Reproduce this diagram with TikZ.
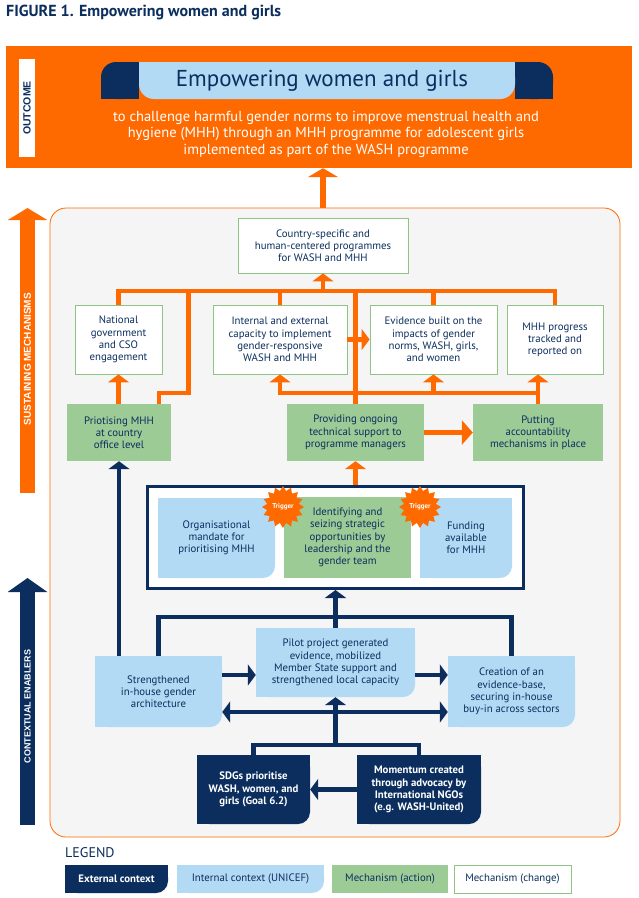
\documentclass[tikz,border=0pt]{standalone}
\usepackage{fontspec}
\setmainfont{PT Sans}
\newfontfamily\barfont{Liberation Sans}
\usetikzlibrary{arrows.meta,shapes.geometric,calc,positioning}

\definecolor{unorange}{RGB}{255,106,0}
\definecolor{unnavy}{RGB}{11,46,94}
\definecolor{unlblue}{RGB}{179,218,245}
\definecolor{ungreen}{RGB}{156,203,150}
\definecolor{unedge}{RGB}{143,196,132}
\definecolor{ungrey}{RGB}{245,245,245}

\begin{document}
\begin{tikzpicture}[x=1pt, y=-1pt, font=\fontsize{10.8}{12.2}\selectfont,
    change/.style={rectangle, draw=unedge, line width=0.8pt, fill=white, text=unnavy, align=center, inner sep=2pt},
    action/.style={rectangle, fill=ungreen, text=unnavy, align=center, inner sep=2pt},
    tabbox/.style={rectangle, align=center, inner sep=2pt, path picture={
        \fill[#1, rounded corners=12pt] (path picture bounding box.north west) rectangle (path picture bounding box.south east);
        \fill[#1] (path picture bounding box.north west) rectangle ([xshift=-12pt]path picture bounding box.south east);
        \fill[#1] (path picture bounding box.north west) rectangle ([yshift=12pt]path picture bounding box.south east);}},
    internal/.style={tabbox=unlblue, text=unnavy},
    external/.style={tabbox=unnavy, text=white, font=\fontsize{10.8}{12.2}\selectfont\bfseries},
    burst/.style={star, star points=16, star point ratio=1.3, minimum size=42pt, inner sep=0pt, fill=unorange, text=white, font=\fontsize{7}{7}\selectfont\bfseries},
    oline/.style={unorange, line width=4.5pt},
    oarrow/.style={oline, -{Triangle[width=21pt,length=8pt]}},
    nline/.style={unnavy, line width=4.5pt},
    narrow/.style={nline, -{Triangle[width=21pt,length=8pt]}}]

    \fill[white] (0,0) rectangle (638,898);
    \node[anchor=base west, inner sep=0, text=unnavy, font=\fontsize{16}{16}\selectfont\bfseries] (title) at (6,16.5) {FIGURE 1. Empowering women and girls};

    % outcome
    \node[fill=unorange, minimum width=626pt, minimum height=122pt, inner sep=0] (outcome) at (319,107) {};
    \node[fill=white, rotate=90, minimum width=98pt, minimum height=16pt, inner sep=0, text=unnavy, font=\barfont\bfseries\fontsize{10.5}{10.5}\selectfont] (outlbl) at (27,108) {OUTCOME};
    \fill[unnavy, rounded corners=15pt] (101,62) rectangle (139,99);
    \fill[unnavy] (101,80) rectangle (139,99);
    \fill[unnavy] (120,62) rectangle (139,99);
    \fill[unnavy, rounded corners=15pt] (515,62) rectangle (553,99);
    \fill[unnavy] (515,80) rectangle (553,99);
    \fill[unnavy] (515,62) rectangle (534,99);
    \fill[unlblue, rounded corners=15pt] (139,62) rectangle (515,99);
    \fill[unlblue] (139,62) rectangle (515,80);
    \node[text=unnavy, font=\fontsize{23}{23}\selectfont] (banner) at (322,81) {Empowering women and girls};
    \node[text=white, align=center, font=\fontsize{14.5}{16.5}\selectfont] (subtl) at (326,134) {to challenge harmful gender norms to improve menstrual health and\\hygiene (MHH) through an MHH programme for adolescent girls\\implemented as part of the WASH programme};

    % side arrows
    \coordinate (smbot) at (27.5,493);
    \coordinate (smtop) at (27.5,208);
    \coordinate (cebot) at (27.5,825);
    \coordinate (cetop) at (27.5,578);
    \draw[unorange, line width=15pt, -{Triangle[width=39pt,length=12pt]}] (smbot) -- node[pos=0.47, sloped, text=white, font=\barfont\bfseries\fontsize{10}{10}\selectfont] {SUSTAINING MECHANISMS} (smtop);
    \draw[unnavy, line width=15pt, -{Triangle[width=39pt,length=14pt]}] (cebot) -- node[pos=0.48, sloped, text=white, font=\barfont\bfseries\fontsize{9}{9}\selectfont] {CONTEXTUAL ENABLERS} (cetop);

    \node[draw=unorange, fill=ungrey, line width=0.8pt, rounded corners=16pt, minimum width=570pt, minimum height=629pt] (frame) at (335,522.5) {};

    % mechanisms (change)
    \node[change, minimum width=170pt, minimum height=55pt] (country) at (323,245.5) {Country-specific and\\human-centered programmes\\for WASH and MHH};
    \node[change, minimum width=87pt, minimum height=69pt] (natl) at (118.5,339.5) {National\\government\\and CSO\\engagement};
    \node[change, minimum width=134pt, minimum height=69pt] (capac) at (280,339.5) {Internal and external\\capacity to implement\\gender-responsive\\WASH and MHH};
    \node[change, minimum width=127pt, minimum height=69pt] (evid) at (433.5,339.5) {Evidence built on the\\impacts of gender\\norms, WASH, girls,\\and women};
    \node[change, minimum width=96pt, minimum height=69pt] (progr) at (555,339.5) {MHH progress\\tracked and\\reported on};

    % mechanisms (action)
    \node[action, minimum width=104pt, minimum height=57pt] (prio) at (119,432.5) {Priotising MHH\\at country\\office level};
    \node[action, minimum width=137pt, minimum height=57pt] (suppt) at (355.5,432.5) {Providing ongoing\\technical support to\\programme managers};
    \node[action, minimum width=130pt, minimum height=57pt] (accnt) at (538,432.5) {Putting\\accountability\\mechanisms in place};

    % triggers
    \node[draw=unnavy, line width=3pt, fill=white, minimum width=376pt, minimum height=102pt] (trig) at (335.5,537.5) {};
    \node[internal, minimum width=117pt, minimum height=80pt] (orgm) at (216.5,538) {Organisational\\mandate for\\prioritising MHH};
    \node[action, minimum width=127pt, minimum height=81pt] (seize) at (347.5,537.5) {Identifying and\\seizing strategic\\opportunities by\\leadership and the\\gender team};
    \node[internal, minimum width=92pt, minimum height=80pt] (fund) at (466,538) {Funding\\available\\for MHH};
    \node[burst] (trig1) at (283,507) {Trigger};
    \node[burst] (trig2) at (420,507) {Trigger};

    % context
    \node[internal, minimum width=127pt, minimum height=71pt] (strng) at (158.5,691.5) {Strengthened\\in-house gender\\architecture};
    \node[internal, minimum width=159pt, minimum height=69pt] (pilot) at (335.5,662.5) {Pilot project generated\\evidence, mobilized\\Member State support and\\strengthened local capacity};
    \node[internal, minimum width=127pt, minimum height=71pt] (creat) at (511.5,691.5) {Creation of an\\evidence-base,\\securing in-house\\buy-in across sectors};
    \node[external, minimum width=113pt, minimum height=69pt] (sdgs) at (253.5,789.5) {SDGs prioritise\\WASH, women, and\\girls (Goal 6.2)};
    \node[external, minimum width=124pt, minimum height=69pt] (momnt) at (419,789.5) {Momentum created\\through advocacy by\\International NGOs\\(e.g. WASH-United)};

    % legend
    \node[anchor=west, inner sep=0, text=unnavy, font=\fontsize{14}{14}\selectfont] (legnd) at (65,853) {LEGEND};
    \node[external, minimum width=103pt, minimum height=28pt] (legext) at (116.5,879) {External context};
    \node[internal, minimum width=147pt, minimum height=28pt] (legint) at (250.5,879) {Internal context (UNICEF)};
    \node[action, minimum width=116pt, minimum height=28pt] (legact) at (390,879) {Mechanism (action)};
    \node[change, minimum width=117pt, minimum height=28pt] (legchg) at (512.5,879) {Mechanism (change)};

    % orange connectors
    \coordinate (bus) at (0,291);
    \coordinate (lbus) at (0,393);
    \coordinate (pjog) at (188.6,393);
    \draw[unorange, line width=6pt, -{Triangle[width=30pt,length=9pt]}] (country |- frame.north) -- (country |- outcome.south);
    \draw[oline] (natl.north) -- (natl |- bus) -| (progr.north);
    \draw[oline] (capac.north) -- (capac |- bus);
    \draw[oline] (evid.north) -- (evid |- bus);
    \draw[oarrow] (country |- bus) -- (country.south);
    \draw[oarrow] (natl |- prio.north) -- (natl.south);
    \draw[oline] ([xshift=40pt]prio.north) |- (pjog) -- (pjog |- bus);
    \draw[oline] (suppt.north) -- (suppt |- bus);
    \draw[oarrow] (accnt.north) -- (accnt |- lbus) -| (capac.south);
    \draw[oarrow] (evid |- lbus) -- (evid.south);
    \draw[oarrow] (accnt |- lbus) -- (accnt |- progr.south);
    \draw[oarrow] (capac.east) -- (evid.west);
    \draw[oline, -{Triangle[width=24pt,length=11pt]}] (suppt.east) -- (accnt.west);
    \draw[oarrow] (suppt |- trig.north) -- (suppt.south);

    % navy connectors
    \coordinate (nbus) at (0,617);
    \coordinate (mid) at (0,675);
    \coordinate (dbl) at (0,712);
    \coordinate (sbus) at (0,745);
    \draw[narrow] (prio |- strng.north) -- (prio.south);
    \draw[nline] (strng.north) -- (strng |- nbus) -| (creat.north);
    \draw[narrow] (pilot.north) -- (trig.south);
    \draw[narrow] (strng.east |- mid) -- (pilot.west |- mid);
    \draw[narrow] (pilot.east |- mid) -- (creat.west |- mid);
    \draw[nline, {Triangle[width=21pt,length=8pt]}-{Triangle[width=21pt,length=8pt]}] (strng.east |- dbl) -- (creat.west |- dbl);
    \draw[nline] (sdgs.north) -- (sdgs |- sbus) -| (momnt.north);
    \draw[narrow] (pilot |- sbus) -- (pilot.south);
    \draw[narrow] (momnt.west) -- (sdgs.east);
\end{tikzpicture}
\end{document}
